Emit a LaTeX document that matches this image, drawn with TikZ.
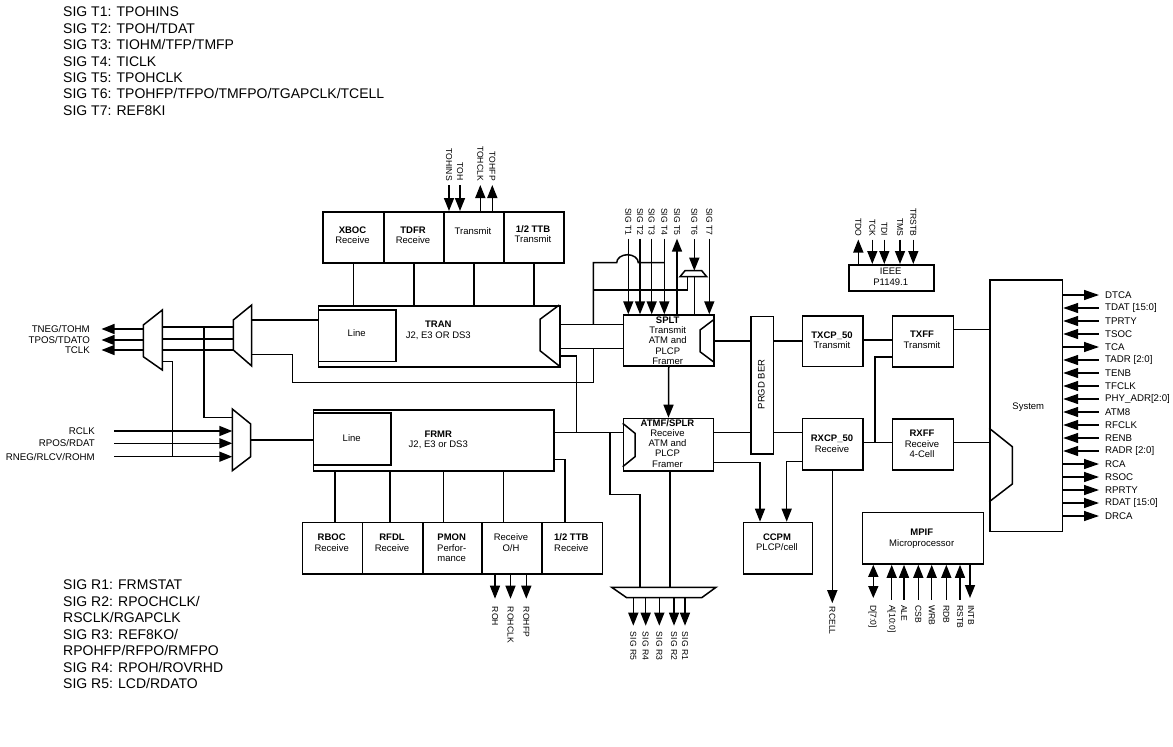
\documentclass[tikz,border=0pt]{standalone}
\usepackage{fontspec}
\setmainfont{Liberation Sans}
\usetikzlibrary{arrows.meta}
\newcommand\bfsz{\fontsize{9.5}{10.4}\selectfont}
\newcommand\bfszb{\fontsize{9.5}{10.2}\selectfont}
\newcommand\vfsz{\fontsize{8.6}{9}\selectfont}
\newcommand\sfsz{\fontsize{9.7}{11}\selectfont}
\newcommand\tfsz{\fontsize{14}{16.4}\selectfont}
\begin{document}
\begin{tikzpicture}[x=1pt,y=-1pt,
 ln/.style={line width=1.5pt},
 arr/.style={line width=1.5pt,-{Triangle[length=13pt,width=10pt]}},
 aup/.style={line width=1.5pt,{Triangle[length=13pt,width=10pt]}-},
 adn/.style={line width=1.5pt,-{Triangle[length=13pt,width=10pt]}},
 dbl/.style={line width=1.5pt,{Triangle[length=12pt,width=10pt]}-{Triangle[length=12pt,width=10pt]}},
 sout/.style={line width=1.4pt,-{Triangle[length=15pt,width=10pt]}},
 sin/.style={line width=1.4pt,{Triangle[length=15pt,width=10pt]}-},
 blk/.style={draw,line width=1.5pt,anchor=north west,inner sep=0pt},
 txt/.style={anchor=north,align=center,inner sep=0pt,font=\bfsz},
 txtb/.style={anchor=north,align=center,inner sep=0pt,font=\bfszb},
 vlab/.style={rotate=-90,inner sep=0pt,font=\vfsz},
 slab/.style={inner sep=0pt,font=\sfsz},
 big/.style={anchor=north west,align=left,inner sep=0pt,font=\tfsz},
 mux/.style={line width=1.5pt,fill=white,line join=miter}]

\fill[white] (0,0) rectangle (1173,747);
\useasboundingbox (0,0) rectangle (1173,747);

% ---------- legend texts ----------
\node[big] (legT) at (63,7) {SIG T1: TPOHINS\\SIG T2: TPOH/TDAT\\SIG T3: TIOHM/TFP/TMFP\\SIG T4: TICLK\\SIG T5: TPOHCLK\\SIG T6: TPOHFP/TFPO/TMFPO/TGAPCLK/TCELL\\SIG T7: REF8KI};
\node[big,font=\fontsize{14}{16.5}\selectfont] (legR) at (63,580) {SIG R1: FRMSTAT\\SIG R2: RPOCHCLK/\\RSCLK/RGAPCLK\\SIG R3: REF8KO/\\RPOHFP/RFPO/RMFPO\\SIG R4: RPOH/ROVRHD\\SIG R5: LCD/RDATO};

% ---------- blocks ----------
\node[blk,minimum width=61pt,minimum height=51pt] (xboc) at (322,211) {};
\node[blk,minimum width=60pt,minimum height=51pt] (tdfr) at (383,211) {};
\node[blk,minimum width=60pt,minimum height=51pt] (tmt) at (443,211) {};
\node[blk,minimum width=60pt,minimum height=51pt] (ttbt) at (503,211) {};
\node[txt] (xbocT) at (352.5,226.6) {\textbf{XBOC}\\Receive};
\node[txt] (tdfrT) at (413,226.6) {\textbf{TDFR}\\Receive};
\node[txt] (tmtT) at (473,227.6) {Transmit};
\node[txt] (ttbtT) at (533,225.3) {\textbf{1/2 TTB}\\Transmit};

\node[blk,minimum width=241.6pt,minimum height=61pt] (tran) at (317.7,305) {};
\node[blk,minimum width=77.3pt,minimum height=51.4pt] (tranline) at (317.7,309.3) {};
\node[txt] (tranlineT) at (356.7,329.9) {Line};
\node[txt] (tranT) at (438.3,320.9) {\textbf{TRAN}\\J2, E3 OR DS3};

\node[blk,minimum width=240.6pt,minimum height=61pt] (frmr) at (312.7,409) {};
\node[blk,minimum width=77.3pt,minimum height=52pt] (frmrline) at (312.7,412.3) {};
\node[txt] (frmrlineT) at (351.7,434.9) {Line};
\node[txt] (frmrT) at (438.3,430.6) {\textbf{FRMR}\\J2, E3 or DS3};

\node[blk,minimum width=60pt,minimum height=51.6pt] (rboc) at (301.7,521.7) {};
\node[blk,minimum width=60.6pt,minimum height=51.6pt] (rfdl) at (361.7,521.7) {};
\node[blk,minimum width=58.7pt,minimum height=51.6pt] (pmon) at (422.3,521.7) {};
\node[blk,minimum width=60pt,minimum height=51.6pt] (roh) at (481,521.7) {};
\node[blk,minimum width=60.7pt,minimum height=51.6pt] (ttbr) at (541,521.7) {};
\node[txt] (rbocT) at (331.7,533.9) {\textbf{RBOC}\\Receive};
\node[txt] (rfdlT) at (392,533.9) {\textbf{RFDL}\\Receive};
\node[txt] (pmonT) at (451.7,533.9) {\textbf{PMON}\\Perfor-\\mance};
\node[txt] (rohT) at (511,533.9) {Receive\\O/H};
\node[txt] (ttbrT) at (571.3,533.9) {\textbf{1/2 TTB}\\Receive};

\node[blk,minimum width=90.6pt,minimum height=50.7pt] (splt) at (622.7,314.3) {};
\node[txtb] (spltT) at (667.7,316.6) {\textbf{SPLT}\\Transmit\\ATM and\\PLCP\\Framer};
\node[blk,minimum width=90pt,minimum height=52.3pt] (atmf) at (622.7,417.7) {};
\node[txtb] (atmfT) at (667.5,419.3) {\textbf{ATMF/SPLR}\\Receive\\ATM and\\PLCP\\Framer};

\node[blk,minimum width=22.7pt,minimum height=137.6pt] (prgd) at (750,315.7) {};
\node[rotate=90,inner sep=0pt,font=\bfsz] (prgdT) at (761.4,384.5) {PRGD BER};

\node[blk,minimum width=60.6pt,minimum height=50.7pt] (txcp) at (801.7,315) {};
\node[txt] (txcpT) at (832,331.6) {\textbf{TXCP\_50}\\Transmit};
\node[blk,minimum width=60.6pt,minimum height=51.6pt] (rxcp) at (801.7,417.7) {};
\node[txt] (rxcpT) at (832,434.9) {\textbf{RXCP\_50}\\Receive};
\node[blk,minimum width=69pt,minimum height=51.6pt] (ccpm) at (742.7,521.7) {};
\node[txt] (ccpmT) at (777,533.3) {\textbf{CCPM}\\PLCP/cell};

\node[blk,minimum width=61pt,minimum height=51pt] (txff) at (891.7,315) {};
\node[txt] (txffT) at (922,330.9) {\textbf{TXFF}\\Transmit};
\node[blk,minimum width=61pt,minimum height=51pt] (rxff) at (891.7,418.3) {};
\node[txt] (rxffT) at (922,429.9) {\textbf{RXFF}\\Receive\\4-Cell};

\node[blk,minimum width=72.4pt,minimum height=251.7pt] (sys) at (989.3,279) {};
\node[txt] (sysT) at (1028.3,402.3) {System};

\node[blk,minimum width=85pt,minimum height=26pt] (ieee) at (848.3,264) {};
\node[txt,font=\fontsize{9.5}{10.7}\selectfont] (ieeeT) at (890.7,267.6) {IEEE\\P1149.1};

\node[blk,minimum width=121pt,minimum height=51.6pt] (mpif) at (861.7,511.7) {};
\node[txt] (mpifT) at (921.7,528.9) {\textbf{MPIF}\\Microprocessor};

% ---------- internal mux shapes ----------
\draw[ln] (559.3,305) -- (540,319.3) -- (540,350.7) -- (559.3,366);
\draw[ln] (713.3,320) -- (700,330) -- (700,351.7) -- (713.3,361.7);
\draw[ln] (622.7,423.3) -- (635,433.3) -- (635,456.7) -- (622.7,466.7);
\draw[ln] (989.3,428.3) -- (1012.3,446.7) -- (1012.3,484) -- (989.3,501.7);

% ---------- top block connections ----------
\foreach \b in {xboc,tdfr,tmt,ttbt}{\draw[ln] (\b.south) -- (\b.south |- tran.north);}
\foreach \n/\x/\s in {tohins/449/adn,toh/460/adn,tohclk/480.3/aup,tohfp/492.3/aup}{
  \node[vlab,anchor=east] (l\n) at (\x,181) {\MakeUppercase{\n}};
  \draw[\s] ([yshift=-4pt]l\n.east) -- (l\n.east |- tmt.north);
}

% ---------- SIG T arrows ----------
\foreach \n/\x/\s in {1/628.3/adn,2/640/adn,3/651.7/adn,4/664.3/adn,5/677/aup,7/709.3/adn}{
  \node[vlab,anchor=west] (lt\n) at (\x,208) {SIG T\n};
  \draw[\s] ([yshift=-3pt]lt\n.east) -- (lt\n.east |- splt.north);
}
\node[vlab,anchor=west] (lt6) at (694.3,208) {SIG T6};
\coordinate (m6b) at (694.3,276.7);
\coordinate (m6t) at (694.3,270.7);
\draw[ln] (splt.north -| m6b) -- (m6b);
\draw[mux] (680,276.7) -- (706.7,276.7) -- (701.7,270.7) -- (685,270.7) -- cycle;
\draw[aup] (m6t) -- ([yshift=-3pt]lt6.east);
% loop with jumper
\coordinate (jL) at (593.3,324.3);
\draw[ln] (jL) -- (593.3,262.7) -- (616.7,262.7) arc[start angle=180,end angle=0,x radius=10.8pt,y radius=8pt] -- (664.3,262.7);
\draw[ln] (593.3,290) -- (687.3,290) -- (687.3,276.7);

% ---------- TRAN / SPLT connections ----------
\draw[ln] (tran.east |- 0,324.3) -- (splt.west |- 0,324.3);
\draw[ln] (tran.east |- 0,348.3) -- (splt.west |- 0,348.3);
\draw[ln] (tran.east |- 0,356) -- (576.7,356) -- (576.7,432.7);
\draw[ln] (frmr.east |- 0,432.7) -- (atmf.west |- 0,432.7);
\draw[ln] (frmr.east |- 0,459.3) -- (565,459.3) -- (565,521.7);
\foreach \x in {335,390,443.3,503.3}{\draw[ln] (frmr.south -| \x,0) -- (rboc.north -| \x,0);}
\draw[arr] (splt.south) -- (atmf.north);

% ---------- left muxes ----------
\coordinate (mBo1) at (251.7,320);
\coordinate (mBo2) at (251.7,354.3);
\coordinate (mCo) at (250.7,440);
\draw[ln] (mBo1) -- (tran.west |- mBo1);
\draw[ln] (mBo2) -- (292.7,354.3) -- (292.7,382.7) -- (593.3,382.7) -- (593.3,348.3);
\draw[ln] (mCo) -- (frmr.west |- mCo);
\foreach \y in {327,339,350}{\draw[ln] (162.3,\y) -- (233.3,\y);}
\draw[ln] (204,327) -- (204,417.3) -- (232.3,417.3);
\draw[ln] (162.3,361.7) -- (172.7,361.7) -- (172.7,456.7);
\foreach \n/\t/\y in {tneg/TNEG\slash TOHM/329,tpos/TPOS\slash TDATO/340,tclk/TCLK/350}{
  \node[slab,anchor=east] (\n) at (90,\y) {\t};
  \draw[arr] (143.3,\y) -- ([xshift=11.5pt]\n.east);
}
\foreach \n/\t/\y in {rclk/RCLK/431,rpos/RPOS\slash RDAT/443.3,rneg/RNEG\slash RLCV\slash ROHM/456.7}{
  \node[slab,anchor=east] (\n) at (95,\y) {\t};
  \draw[arr] ([xshift=19pt]\n.east -| 95,0) -- (232.3,\y);
}
\draw[mux] (143.3,325) -- (162.3,310) -- (162.3,370) -- (143.3,356.7) -- cycle;
\draw[mux] (233.3,320) -- (251.7,305) -- (251.7,366) -- (233.3,350) -- cycle;
\draw[mux] (232.3,409) -- (250.7,424) -- (250.7,456.7) -- (232.3,470.7) -- cycle;

% ---------- ATMF connections ----------
\draw[ln] (610,432.7) -- (610,494.3) -- (640,494.3) -- (640,587.3);
\draw[ln] (atmf.south -| 670,0) -- (670,587.3);
\draw[mux] (611.7,587.3) -- (716,587.3) -- (701.7,597.7) -- (626.7,597.7) -- cycle;
\foreach \n/\x in {5/633.3,4/645.7,3/659.3,2/674,1/685}{
  \node[vlab,anchor=west] (lr\n) at (\x,631.7) {SIG R\n};
  \draw[arr] (\x,597.7) -- ([yshift=6pt]lr\n.west);
}
\foreach \n/\t/\x in {oh/ROH/495,ohclk/ROHCLK/510.5,ohfp/ROHFP/526.3}{
  \node[vlab,anchor=west] (l\n) at (\x,606.7) {\t};
  \draw[arr] (roh.south -| l\n.west) -- ([yshift=8pt]l\n.west);
}

% ---------- PRGD / TXCP / RXCP / CCPM ----------
\draw[ln] (splt.east |- 0,341) -- (prgd.west |- 0,341);
\draw[ln] (prgd.east |- 0,341) -- (txcp.west |- 0,341);
\draw[ln] (atmf.east |- 0,432.7) -- (prgd.west |- 0,432.7);
\draw[ln] (prgd.east |- 0,432.7) -- (rxcp.west |- 0,432.7);
\draw[arr] (atmf.east |- 0,462.7) -- (760,462.7) -- (ccpm.north -| 760,0);
\draw[arr] (rxcp.west |- 0,461.7) -- (786.7,461.7) -- (ccpm.north -| 786.7,0);
\node[vlab,anchor=west] (lrcell) at (832.3,606.7) {RCELL};
\draw[arr] (rxcp.south -| lrcell.west) -- ([yshift=3.5pt]lrcell.west);

\draw[ln] (txcp.east |- 0,340) -- (txff.west |- 0,340);
\draw[ln] (rxcp.east |- 0,442.7) -- (rxff.west |- 0,442.7);
\draw[ln] (875,442.7) -- (875,357) -- (txff.west |- 0,357);
\draw[ln] (txff.east |- 0,329.3) -- (sys.west |- 0,329.3);
\draw[ln] (rxff.east |- 0,442.7) -- (sys.west |- 0,442.7);

% ---------- IEEE ----------
\foreach \n/\x/\s in {TDO/858.3/aup,TCK/872.3/adn,TDI/884.3/adn,TMS/900/adn,TRSTB/913.3/adn}{
  \node[vlab,anchor=east] (l\n) at (\x,236.5) {\n};
  \draw[\s] ([yshift=-3pt]l\n.east) -- (l\n.east |- ieee.north);
}

% ---------- MPIF ----------
\node[vlab,anchor=west] (lD) at (872.5,605) {D[7:0]};
\draw[dbl] (mpif.south -| 873.3,0) -- (873.3,598);
\foreach \n/\t/\x in {A/A[10:0]/891.7,ALE/ALE/904,CSB/CSB/918.3,WRB/WRB/931.7,RDB/RDB/946.3,RSTB/RSTB/960}{
  \node[vlab,anchor=west] (l\n) at (\x,605) {\t};
  \draw[aup] (mpif.south -| \x,0) -- ([yshift=5pt]l\n.west);
}
\node[vlab,anchor=west] (lINTB) at (971,605) {INTB};
\draw[adn] (mpif.south -| 970,0) -- (970,598);

% ---------- System right side ----------
\foreach \t/\d [count=\i from 0] in {DTCA/sout,{TDAT [15:0]}/sin,TPRTY/sin,TSOC/sin,TCA/sout,{TADR [2:0]}/sin,TENB/sin,TFCLK/sin,{PHY\_ADR[2:0]}/sin,ATM8/sin,RFCLK/sin,RENB/sin,{RADR [2:0]}/sin,RCA/sout,RSOC/sout,RPRTY/sout,{RDAT [15:0]}/sout,DRCA/sout}{
  \pgfmathsetmacro\yy{295+13*\i}
  \node[slab,anchor=west] (r\i) at (1105,\yy) {\t};
  \draw[\d] (sys.east |- r\i.west) -- ([xshift=-6pt]r\i.west);
}
\end{tikzpicture}
\end{document}
